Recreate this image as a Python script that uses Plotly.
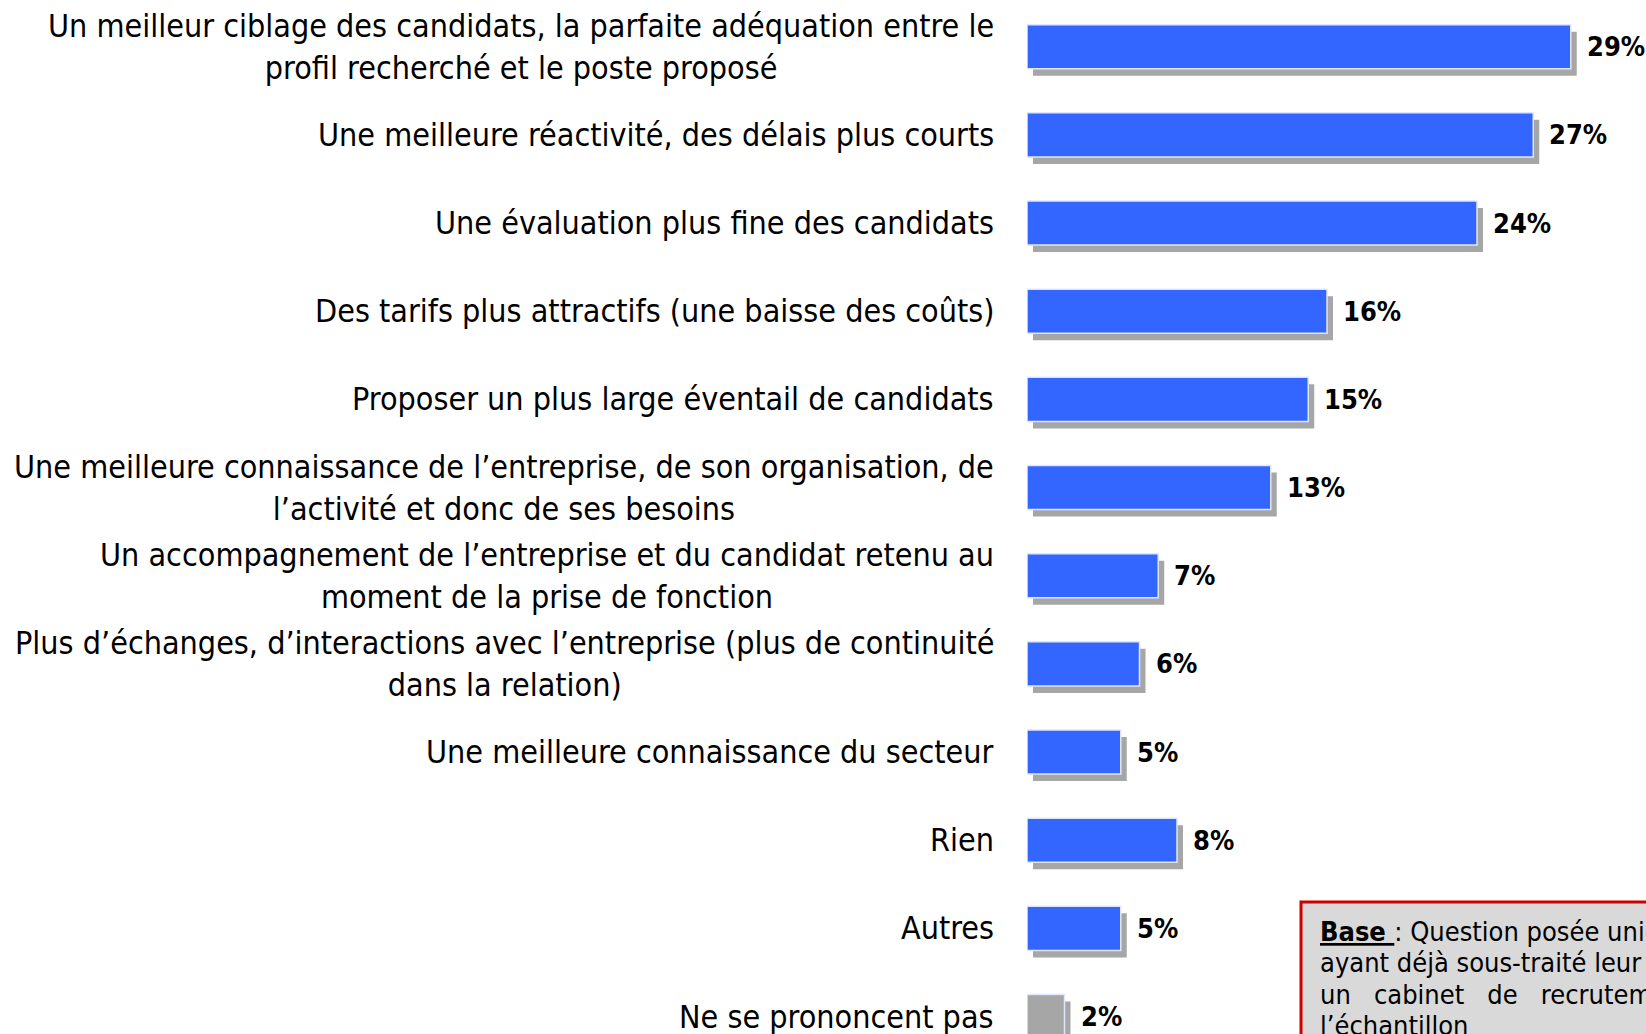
import plotly.graph_objects as go

categories = [
    "Un meilleur ciblage des candidats, la parfaite adéquation entre le<br>profil recherché et le poste proposé",
    "Une meilleure réactivité, des délais plus courts",
    "Une évaluation plus fine des candidats",
    "Des tarifs plus attractifs (une baisse des coûts)",
    "Proposer un plus large éventail de candidats",
    "Une meilleure connaissance de l’entreprise, de son organisation, de<br>l’activité et donc de ses besoins",
    "Un accompagnement de l’entreprise et du candidat retenu au<br>moment de la prise de fonction",
    "Plus d’échanges, d’interactions avec l’entreprise (plus de continuité<br>dans la relation)",
    "Une meilleure connaissance du secteur",
    "Rien",
    "Autres",
    "Ne se prononcent pas",
]
values = [29, 27, 24, 16, 15, 13, 7, 6, 5, 8, 5, 2]
value_labels = ["29%", "27%", "24%", "16%", "15%", "13%", "7%", "6%", "5%", "8%", "5%", "2%"]
bar_colors = ["#3366ff"] * 11 + ["#a6a6a6"]

sp = "\u00a0\u00a0\u00a0"
note_lines = [
    "<b><u>Base </u></b>: Question posée uniquement aux entreprises",
    "ayant déjà sous-traité leur recrutement à",
    "un" + sp + "cabinet" + sp + "de" + sp + "recrutement",
    "l’échantillon",
]

FONT = "DejaVu Sans Condensed, Tahoma, DejaVu Sans, sans-serif"
W, H = 1646, 1034
ML = 1027
PX_PER_PCT = 18.75
ROW = 88.17
TOP = -46.7 / ROW
BAR_W = 0.5
SH_DX = 6 / PX_PER_PCT
SH_DY = 7 / ROW

ids = list(range(len(categories)))

fig = go.Figure()
# shadows
fig.add_trace(go.Bar(
    y=ids, x=values, base=[SH_DX] * len(values), orientation="h",
    width=BAR_W, offset=-BAR_W / 2 + SH_DY,
    marker=dict(color="#a6a6a6", line=dict(width=0)),
    hoverinfo="skip", showlegend=False,
))
# bars
fig.add_trace(go.Bar(
    y=ids, x=values, orientation="h",
    width=BAR_W, offset=-BAR_W / 2,
    marker=dict(color=bar_colors, line=dict(color="#dfe6ff", width=1.5)),
    showlegend=False,
))

annotations = []
for i, (cat, v, lab) in enumerate(zip(categories, values, value_labels)):
    annotations.append(dict(
        x=0, y=i, xref="x", yref="y", xanchor="right", yanchor="middle",
        xshift=-31, text=cat, showarrow=False, align="center",
        font=dict(family=FONT, size=32, color="#000000"),
    ))
    annotations.append(dict(
        x=v, y=i, xref="x", yref="y", xanchor="left", yanchor="middle",
        xshift=14, text="<b>" + lab + "</b>", showarrow=False,
        font=dict(family=FONT, size=27, color="#000000"),
    ))

PW = W - ML
box_x0 = (1301 - ML) / PW
box_y1 = 1 - 902 / H
NOTE_TOP = 931
NOTE_STEP = 31.5
for k, line in enumerate(note_lines):
    annotations.append(dict(
        x=(1318 - ML) / PW, y=1 - NOTE_TOP / H, yshift=-k * NOTE_STEP,
        xref="paper", yref="paper",
        xanchor="left", yanchor="middle", showarrow=False, align="left",
        text=line, font=dict(family=FONT, size=27, color="#000000"),
    ))

fig.update_layout(
    width=W, height=H,
    margin=dict(l=ML, r=0, t=0, b=0),
    paper_bgcolor="white", plot_bgcolor="white",
    barmode="overlay",
    xaxis=dict(range=[0, PW / PX_PER_PCT], visible=False, fixedrange=True),
    yaxis=dict(range=[TOP + H / ROW, TOP], visible=False, fixedrange=True),
    annotations=annotations,
    shapes=[dict(
        type="rect", xref="paper", yref="paper",
        x0=box_x0, x1=1.3, y0=-0.3, y1=box_y1,
        fillcolor="#d9d9d9", line=dict(color="#cc0000", width=3), layer="below",
    )],
)

fig.write_html(
    "out.html",
    config={"displayModeBar": False},
    post_script="document.body.style.margin='0';document.body.style.overflow='hidden';",
)
